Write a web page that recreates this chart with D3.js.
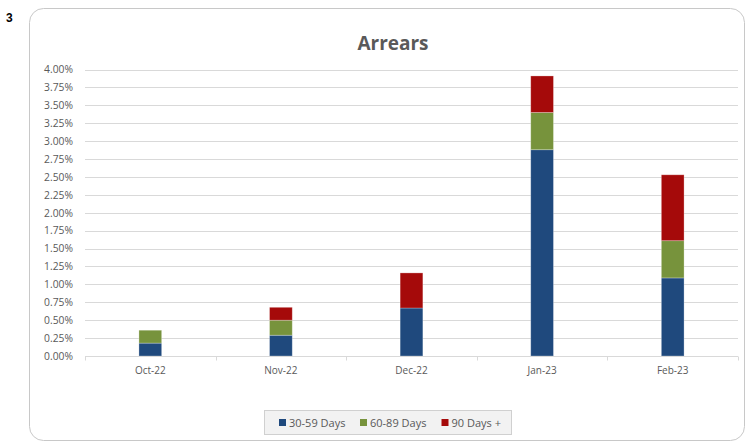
<!DOCTYPE html>
<html>
<head>
<meta charset="utf-8">
<script src="https://cdn.jsdelivr.net/npm/d3@7"></script>
<style>
  html, body { margin: 0; padding: 0; background: #fff; }
  svg { display: block; font-family: "Open Sans", sans-serif; }
</style>
</head>
<body>
<svg id="chart" width="747" height="443"></svg>
<script>
// Arrears by month, stacked by days past due (values in %)
const months = ["Oct-22", "Nov-22", "Dec-22", "Jan-23", "Feb-23"];
const days30to59 = [0.18, 0.29, 0.67, 2.88, 1.09];
const days60to89 = [0.18, 0.21, 0.00, 0.52, 0.52];
const days90plus = [0.00, 0.18, 0.49, 0.51, 0.92];
const seriesNames = ["30-59 Days", "60-89 Days", "90 Days +"];
const seriesColors = ["#1F497D", "#77933C", "#A50A0A"];
const yTicks = d3.range(0, 4.001, 0.25);

const svg = d3.select("#chart");

// page number
svg.append("text").attr("x", 6).attr("y", 22)
  .attr("font-family", "Liberation Sans, Arial, sans-serif")
  .attr("font-weight", "bold").attr("font-size", 12).attr("fill", "#000").text("3");

// chart frame
svg.append("rect").attr("x", 29.5).attr("y", 8.5).attr("width", 715).attr("height", 432)
  .attr("rx", 14).attr("ry", 14).attr("fill", "#fff").attr("stroke", "#c8c8c8");

// title
svg.append("text").attr("x", 393).attr("y", 50).attr("text-anchor", "middle")
  .attr("font-size", 19).attr("font-weight", "bold").attr("fill", "#595959").text("Arrears");

const x = d3.scaleBand().domain(months).range([85, 738]).paddingInner(0.826).paddingOuter(0.413);
const y = d3.scaleLinear().domain([0, 4]).range([356, 69.5]);

// gridlines
svg.append("g").selectAll("line").data(yTicks.slice(1)).join("line")
  .attr("x1", 85).attr("x2", 738)
  .attr("y1", d => Math.round(y(d)) + 0.5).attr("y2", d => Math.round(y(d)) + 0.5)
  .attr("stroke", "#d9d9d9");

// y axis labels
const yAxis = svg.append("g").attr("transform", "translate(73,0)")
  .call(d3.axisLeft(y).tickValues(yTicks).tickSize(0).tickPadding(0).tickFormat(d => d.toFixed(2) + "%"));
yAxis.select(".domain").remove();
yAxis.selectAll("text").attr("font-family", "Open Sans, sans-serif").attr("font-size", 10.3).attr("fill", "#595959");

// stacked bars
const rows = months.map((m, i) => ({ month: m, a: days30to59[i], b: days60to89[i], c: days90plus[i] }));
const stack = d3.stack().keys(["a", "b", "c"])(rows);
svg.append("g").selectAll("g").data(stack).join("g")
  .attr("fill", (d, i) => seriesColors[i])
  .selectAll("rect").data(d => d.filter(s => s[1] - s[0] > 0)).join("rect")
  .attr("x", d => x(d.data.month))
  .attr("width", x.bandwidth())
  .attr("y", d => y(d[1]))
  .attr("height", d => y(d[0]) - y(d[1]))
  .attr("stroke", "rgba(255,255,255,0.35)").attr("stroke-width", 0.8);

// x axis with category boundary ticks
const xg = svg.append("g").attr("transform", "translate(0,356.5)");
xg.append("line").attr("x1", 85).attr("x2", 738).attr("stroke", "#d9d9d9");
const step = x.step();
xg.selectAll("line.tk").data(d3.range(0, months.length + 1)).join("line").attr("class", "tk")
  .attr("x1", i => Math.round(85 + i * step) + 0.5).attr("x2", i => Math.round(85 + i * step) + 0.5)
  .attr("y1", 0).attr("y2", 4).attr("stroke", "#d9d9d9");
xg.selectAll("text").data(months).join("text")
  .attr("x", d => x(d) + x.bandwidth() / 2).attr("y", 17)
  .attr("text-anchor", "middle").attr("font-size", 10).attr("fill", "#595959").text(d => d);

// legend
const lg = svg.append("g");
lg.append("rect").attr("x", 264.5).attr("y", 410.5).attr("width", 247).attr("height", 24)
  .attr("fill", "#f2f2f2").attr("stroke", "#d0d0d0");
const legendX = [279, 360, 441.5];
seriesNames.forEach((name, i) => {
  lg.append("rect").attr("x", legendX[i]).attr("y", 419).attr("width", 7).attr("height", 7).attr("fill", seriesColors[i]);
  lg.append("text").attr("x", legendX[i] + 10).attr("y", 426.5)
    .attr("font-size", 11).attr("fill", "#595959").text(name);
});
</script>
</body>
</html>
